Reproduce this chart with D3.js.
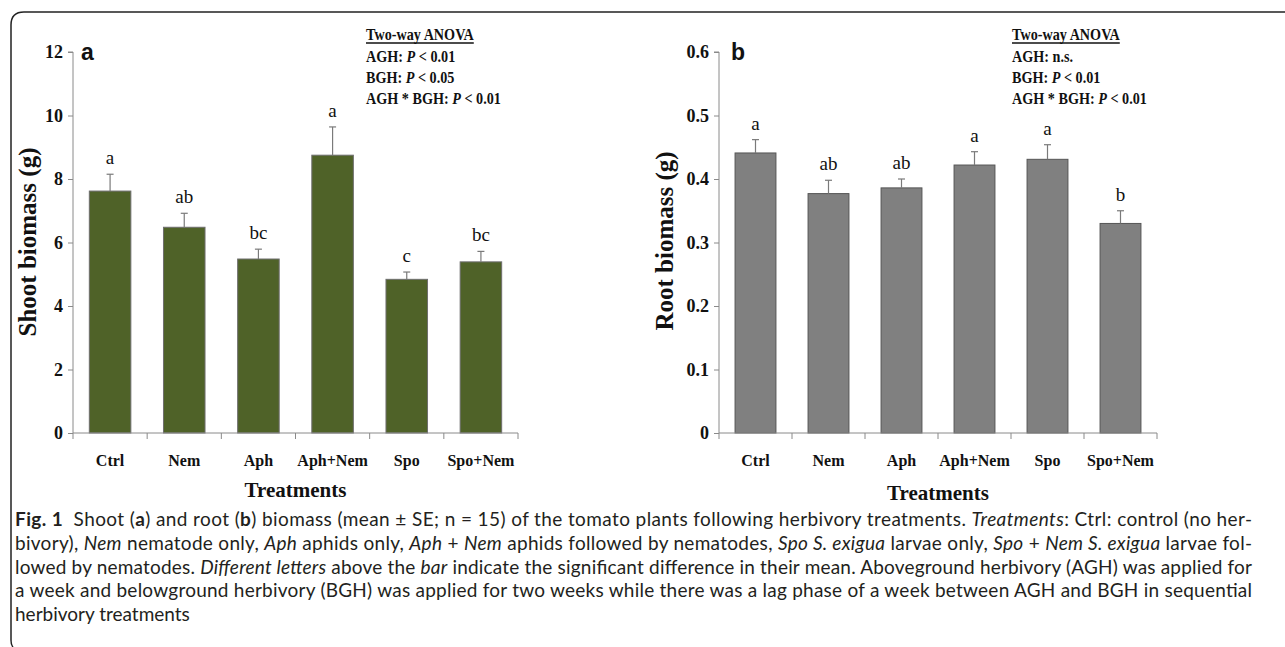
<!DOCTYPE html>
<html>
<head>
<meta charset="utf-8">
<script src="https://cdn.jsdelivr.net/npm/d3@7/dist/d3.min.js"></script>
<style>
  html, body { margin: 0; padding: 0; background: #fff; }
  svg { display: block; }
</style>
</head>
<body>
<svg id="chart" width="1285" height="647"></svg>
<script>
// ---------- DATA ----------
const categories = ["Ctrl", "Nem", "Aph", "Aph+Nem", "Spo", "Spo+Nem"];
const shootMean = [7.62, 6.48, 5.48, 8.75, 4.84, 5.39];
const shootSE   = [0.53, 0.44, 0.31, 0.89, 0.23, 0.33];
const shootLetters = ["a", "ab", "bc", "a", "c", "bc"];
const rootMean = [0.441, 0.377, 0.386, 0.422, 0.431, 0.330];
const rootSE   = [0.021, 0.021, 0.014, 0.021, 0.023, 0.020];
const rootLetters = ["a", "ab", "ab", "a", "a", "b"];
const shootTicks = [0, 2, 4, 6, 8, 10, 12];
const rootTicks = [0, 0.1, 0.2, 0.3, 0.4, 0.5, 0.6];
const shootAnova = [["AGH: ", "P", " < 0.01"], ["BGH: ", "P", " < 0.05"], ["AGH * BGH: ", "P", " < 0.01"]];
const rootAnova  = [["AGH: n.s.", "", ""], ["BGH: ", "P", " < 0.01"], ["AGH * BGH: ", "P", " < 0.01"]];

const svg = d3.select("#chart");
const SERIF = "'Liberation Serif', 'DejaVu Serif', serif";

// frame
svg.append("path")
  .attr("d", "M1285,12 L24,12 Q11,12 11,25 L11,640 Q11,645 13,647")
  .attr("fill", "none").attr("stroke", "#222").attr("stroke-width", 1.5);

function panel(opt) {
  const g = svg.append("g");
  const x = d3.scaleBand().domain(categories).range(opt.xr).paddingInner(0.44).paddingOuter(0.22);
  const y = d3.scaleLinear().domain(opt.yd).range([433, 52]);
  const axisColor = "#8a8a8a";

  // bars
  g.selectAll("rect.bar").data(categories).join("rect")
    .attr("x", d => x(d)).attr("width", x.bandwidth())
    .attr("y", (d, i) => y(opt.mean[i]))
    .attr("height", (d, i) => y(0) - y(opt.mean[i]))
    .attr("fill", opt.fill).attr("stroke", opt.stroke).attr("stroke-width", 1);

  // error bars
  const eb = g.selectAll("g.err").data(categories).join("g");
  eb.append("line")
    .attr("x1", d => x(d) + x.bandwidth() / 2).attr("x2", d => x(d) + x.bandwidth() / 2)
    .attr("y1", (d, i) => y(opt.mean[i])).attr("y2", (d, i) => y(opt.mean[i] + opt.se[i]))
    .attr("stroke", "#7a7a7a").attr("stroke-width", 1.2);
  eb.append("line")
    .attr("x1", d => x(d) + x.bandwidth() / 2 - 3.5).attr("x2", d => x(d) + x.bandwidth() / 2 + 3.5)
    .attr("y1", (d, i) => y(opt.mean[i] + opt.se[i])).attr("y2", (d, i) => y(opt.mean[i] + opt.se[i]))
    .attr("stroke", "#7a7a7a").attr("stroke-width", 1.2);

  // letters
  g.selectAll("text.let").data(categories).join("text")
    .attr("x", d => x(d) + x.bandwidth() / 2)
    .attr("y", (d, i) => y(opt.mean[i] + opt.se[i]) - 10)
    .attr("text-anchor", "middle")
    .attr("font-family", SERIF).attr("font-size", 19).attr("fill", "#111")
    .text((d, i) => opt.letters[i]);

  // y axis
  const ya = g.append("g").attr("transform", `translate(${opt.xr[0]},0)`)
    .call(d3.axisLeft(y).tickValues(opt.ticks).tickSize(5).tickPadding(5).tickFormat(opt.fmt));
  ya.select(".domain").attr("stroke", axisColor).attr("d", `M-5,${y(opt.yd[1])}H0V${y(0)}`);
  ya.selectAll(".tick line").attr("stroke", axisColor);
  ya.selectAll(".tick text").attr("font-family", SERIF).attr("font-weight", "bold")
    .attr("font-size", 18).attr("fill", "#111");

  // x axis
  const step = x.step();
  const bounds = d3.range(categories.length + 1).map(i => opt.xr[0] + i * step);
  const xa = g.append("g").attr("transform", `translate(0,${y(0)})`)
    .call(d3.axisBottom(x).tickSize(0).tickPadding(22));
  xa.select(".domain").attr("stroke", axisColor).attr("d", `M${opt.xr[0]},0H${opt.xr[1]}`);
  xa.selectAll(".tick text").attr("font-family", SERIF).attr("font-weight", "bold")
    .attr("font-size", 16).attr("fill", "#111");
  xa.selectAll("line.bd").data(bounds).join("line").attr("class", "bd")
    .attr("x1", d => d).attr("x2", d => d).attr("y1", 0).attr("y2", 6)
    .attr("stroke", axisColor);

  // x title
  g.append("text").attr("x", (opt.xr[0] + opt.xr[1]) / 2).attr("y", opt.titleY)
    .attr("text-anchor", "middle").attr("font-family", SERIF).attr("font-weight", "bold")
    .attr("font-size", 21).attr("fill", "#111").text("Treatments");

  // y title
  g.append("text").attr("transform", `translate(${opt.ylabX},${opt.ylabY}) rotate(-90)`)
    .attr("text-anchor", "middle").attr("font-family", SERIF).attr("font-weight", "bold")
    .attr("font-size", 25).attr("fill", "#111").text(opt.ylab);

  // panel letter
  g.append("text").attr("x", opt.letterX).attr("y", 60)
    .attr("font-family", "'Liberation Sans', Arial, sans-serif").attr("font-weight", "bold")
    .attr("font-size", 23).attr("fill", "#111").text(opt.panel);

  // ANOVA box (narrow, tall serif)
  const ax = opt.anovaX;
  const sx = 0.86;
  const t0 = g.append("text").attr("transform", `translate(${ax},40) scale(${sx},1)`)
    .attr("font-family", SERIF).attr("font-weight", "bold").attr("font-size", 16.5)
    .attr("fill", "#111").text("Two-way ANOVA");
  const w = t0.node().getComputedTextLength() * sx;
  g.append("line").attr("x1", ax).attr("x2", ax + w).attr("y1", 43).attr("y2", 43)
    .attr("stroke", "#111").attr("stroke-width", 1.3);
  opt.anova.forEach((parts, i) => {
    const t = g.append("text").attr("transform", `translate(${ax},${62 + i * 21}) scale(${sx},1)`)
      .attr("font-family", SERIF).attr("font-weight", "bold").attr("font-size", 16.5).attr("fill", "#111");
    t.append("tspan").text(parts[0]);
    if (parts[1]) t.append("tspan").attr("font-style", "italic").text(parts[1]);
    if (parts[2]) t.append("tspan").text(parts[2]);
  });
}

panel({
  xr: [73, 518], yd: [0, 12], mean: shootMean, se: shootSE, letters: shootLetters,
  ticks: shootTicks, fmt: d => d3.format("d")(d),
  fill: "#4f6228", stroke: "#6e6e6e",
  titleY: 497, ylab: "Shoot biomass (g)", ylabX: 36, ylabY: 242,
  panel: "a", letterX: 81, anovaX: 366, anova: shootAnova
});
panel({
  xr: [719, 1157], yd: [0, 0.6], mean: rootMean, se: rootSE, letters: rootLetters,
  ticks: rootTicks, fmt: d => d === 0 ? "0" : d3.format(".1f")(d),
  fill: "#808080", stroke: "#555",
  titleY: 500, ylab: "Root biomass (g)", ylabX: 673, ylabY: 241,
  panel: "b", letterX: 731, anovaX: 1012, anova: rootAnova
});

// ---------- caption ----------
const caption = [
  [["Fig. 1", "b"], ["  Shoot (", ""], ["a", "b"], [") and root (", ""], ["b", "b"],
   [") biomass (mean ± SE; n = 15) of the tomato plants following herbivory treatments. ", ""],
   ["Treatments", "i"], [": Ctrl: control (no her-", ""]],
  [["bivory), ", ""], ["Nem", "i"], [" nematode only, ", ""], ["Aph", "i"], [" aphids only, ", ""],
   ["Aph", "i"], [" + ", ""], ["Nem", "i"], [" aphids followed by nematodes, ", ""], ["Spo S. exigua", "i"],
   [" larvae only, ", ""], ["Spo", "i"], [" + ", ""], ["Nem S. exigua", "i"], [" larvae fol-", ""]],
  [["lowed by nematodes. ", ""], ["Different letters", "i"], [" above the ", ""], ["bar", "i"],
   [" indicate the significant difference in their mean. Aboveground herbivory (AGH) was applied for", ""]],
  [["a week and belowground herbivory (BGH) was applied for two weeks while there was a lag phase of a week between AGH and BGH in sequential", ""]],
  [["herbivory treatments", ""]]
];
const capX = 15, capEnd = 1252, baseSize = 16;
const capTexts = caption.map((line, li) => {
  const t = svg.append("text").attr("x", capX).attr("y", 526 + li * 23.8)
    .attr("font-family", "Lato, 'Open Sans', sans-serif").attr("font-size", baseSize)
    .attr("fill", "#231f20").attr("xml:space", "preserve").style("white-space", "pre");
  line.forEach(([s, st]) => {
    const ts = t.append("tspan").text(s);
    if (st === "b") ts.attr("font-weight", "bold");
    if (st === "i") ts.attr("font-style", "italic");
  });
  return t;
});
// choose one font size so the widest justified line just fits
let fit = 19;
capTexts.slice(0, 4).forEach(t => {
  const nat = t.node().getComputedTextLength();
  fit = Math.min(fit, baseSize * (capEnd - capX) / nat);
});
capTexts.forEach((t, li) => {
  t.attr("font-size", fit);
  if (li < capTexts.length - 1) t.attr("textLength", capEnd - capX).attr("lengthAdjust", "spacing");
});
</script>
</body>
</html>
